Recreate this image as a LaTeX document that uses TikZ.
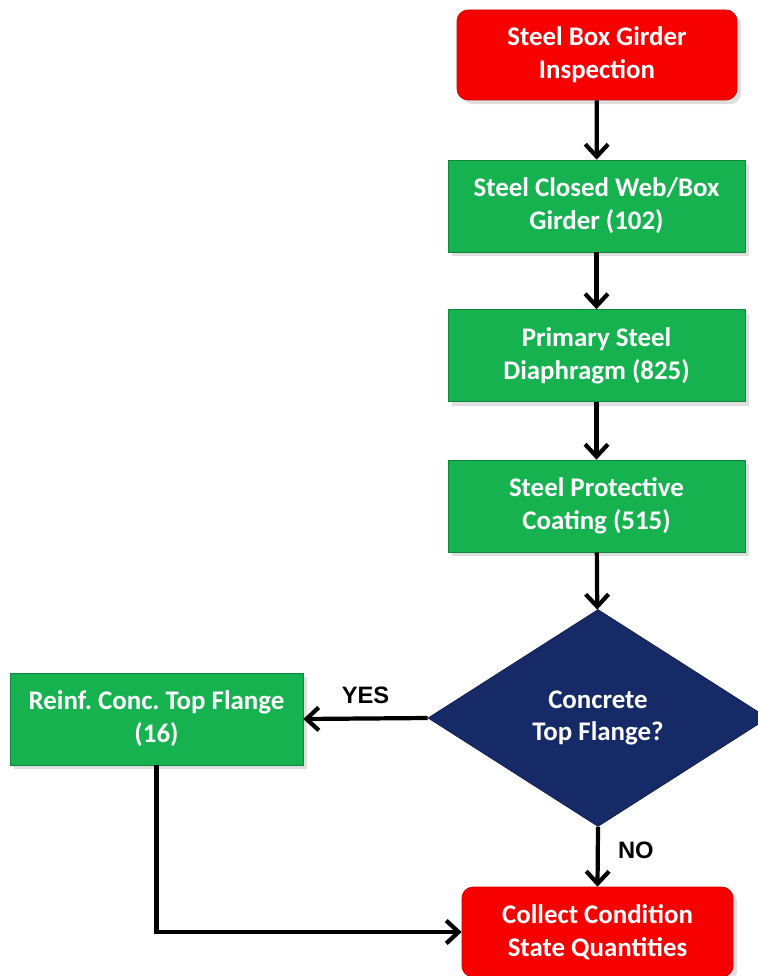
\documentclass[tikz,border=0pt]{standalone}
\usepackage{fontspec}
\setmainfont{Carlito}
\newfontfamily\labelfont{Liberation Sans}
\usetikzlibrary{arrows.meta,shapes.geometric,shadows}
\definecolor{boxred}{RGB}{246,0,0}
\definecolor{boxgreen}{RGB}{22,178,80}
\definecolor{boxnavy}{RGB}{22,42,104}
\frenchspacing
\begin{document}
\begin{tikzpicture}[
    redbox/.style={fill=boxred, draw=boxred!80!black, rounded corners=0.22cm, minimum width=5.6cm, minimum height=1.8cm, drop shadow={opacity=0.25}},
    greenbox/.style={fill=boxgreen, draw=boxgreen!75!black, minimum width=5.94cm, minimum height=1.84cm, drop shadow={opacity=0.25}},
    decision/.style={diamond, fill=boxnavy, draw=boxnavy!70!black, inner sep=0pt, aspect=1.57, minimum width=6.8cm, minimum height=4.34cm},
    boxtext/.style={text=white, align=center, font=\fontsize{15.3}{18.7}\selectfont\bfseries},
    flow/.style={line width=2.4pt, -{Straight Barb[length=7pt,width=13pt]}},
    answer/.style={font=\labelfont\fontsize{13.5}{15}\selectfont\bfseries}
]
    \useasboundingbox (0,0) rectangle (15.16,-19.52);
    \node[redbox, boxtext] (start) at (11.94,-1.10) {Steel Box Girder\\Inspection};
    \node[greenbox, boxtext] (girder) at (11.93,-4.12) {Steel Closed Web/Box\\Girder (102)};
    \node[greenbox, boxtext] (diaphragm) at (11.93,-7.11) {Primary Steel\\Diaphragm (825)};
    \node[greenbox, boxtext] (coating) at (11.93,-10.12) {Steel Protective\\Coating (515)};
    \node[decision, boxtext] (flange) at (11.96,-14.36) {Concrete\\Top Flange?};
    \node[greenbox, boxtext, minimum width=5.86cm] (reinf) at (3.13,-14.38) {Reinf. Conc. Top Flange\\(16)};
    \node[redbox, boxtext, minimum width=5.42cm] (collect) at (11.95,-18.64) {Collect Condition\\State Quantities};
    \draw[flow] (start) -- (girder);
    \draw[flow] (girder) -- (diaphragm);
    \draw[flow] (diaphragm) -- (coating);
    \draw[flow] (coating) -- (flange);
    \draw[flow] (flange.west) -- node[answer, above=4pt] (yes) {YES} (reinf.east);
    \draw[flow] (flange.south) -- node[answer, right=7pt, pos=0.4] (no) {NO} (collect.north);
    \draw[flow] (reinf.south) |- (collect.west);
\end{tikzpicture}
\end{document}
